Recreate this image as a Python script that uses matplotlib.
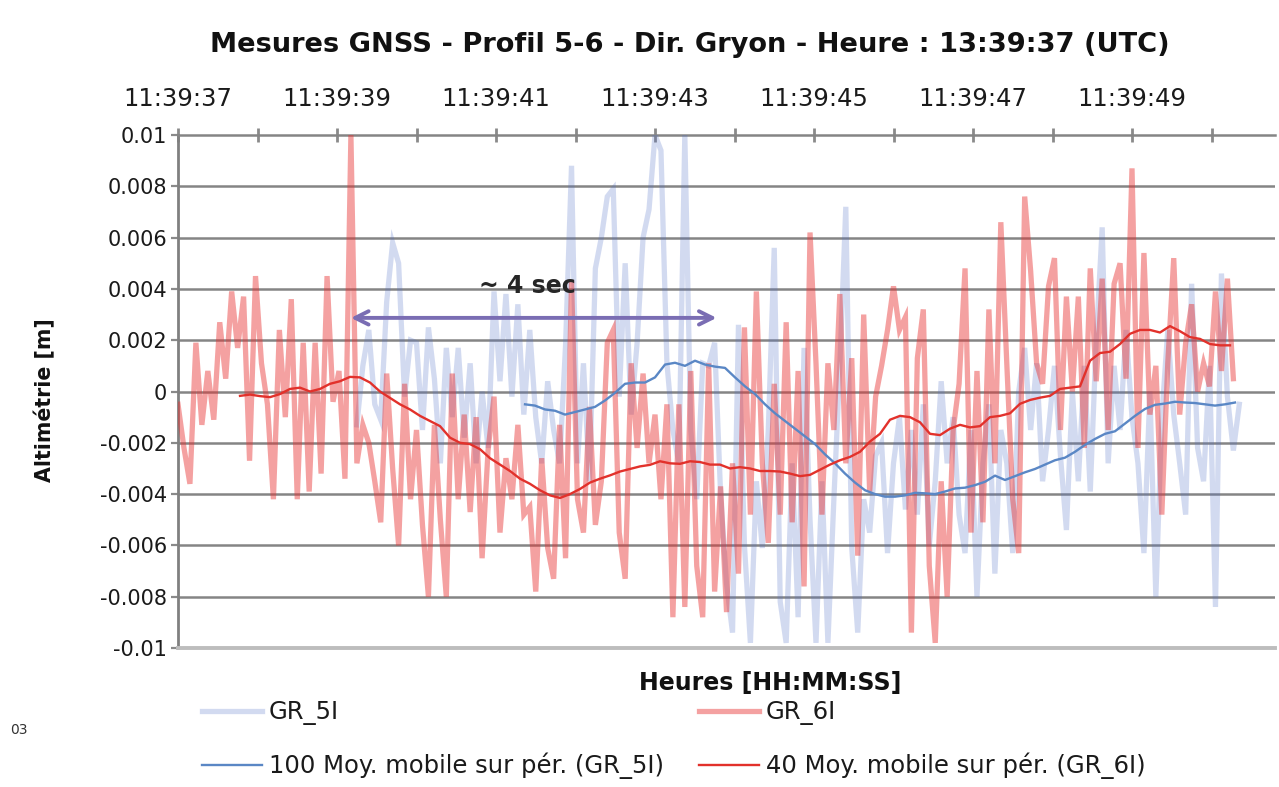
import numpy as np
import matplotlib
matplotlib.use("Agg")
import matplotlib.pyplot as plt
from matplotlib.ticker import FixedLocator

plt.rcParams['font.family'] = ['DejaVu Sans']

# ---------------- data (values in mm, time in seconds after 11:39:37) ----------------
step = 0.075  # raw sampling step (s)

gr6_start = 0.0
gr6_mm = [
    # 11:39:37 - 11:39:39
    -0.5, -2.2, -3.6, 1.9, -1.3, 0.8, -1.1, 2.7, 0.5, 3.9, 1.7, 3.7, -2.7, 4.5, 1.1,
    -0.5, -4.2, 2.4, -1.0, 3.6, -4.2, 1.9, -3.9, 1.9, -3.2, 4.5, -0.4, 0.8, -3.4, 10.0,
    # -> 11:39:41
    -2.8, -1.3, -2.0, -3.5, -5.1, 0.7, -3.0, -6.0, 0.3, -4.2, -1.5, -5.2, -8.0, -1.3, -5.0,
    -8.0, 0.7, -4.2, -0.9, -4.7, -1.0, -6.5, -2.3, -0.2, -5.5, -2.6, -4.2, -1.3, -4.8,
    # -> 11:39:43
    -4.5, -7.8, -2.6, -6.1, -7.3, -1.3, -6.5, 4.3, -4.2, -5.5, -0.6, -5.2, -3.5, 1.9, 2.4,
    -5.5, -7.3, 1.1, -2.2, 0.7, -2.8, -0.9, -4.2, -0.5, -8.8, -0.5, -8.4, 0.8, -6.8, -8.8,
    # -> 11:39:45
    1.1, -7.8, -3.7, -8.6, -2.8, -7.1, 2.5, -4.8, 3.9, -2.8, -5.9, 0.3, -4.8, 2.7, -5.1,
    0.8, -7.6, 6.2, 1.1, -4.8, 1.1, -1.5, 3.8, -2.8, 1.3, -6.4, 3.0, -3.9, -0.2,
    # -> 11:39:47
    1.0, 2.4, 4.1, 2.4, 2.9, -9.4, 1.3, 3.2, -6.8, -9.8, -3.5, -8.0, -1.5, 0.3, 4.8,
    -5.5, 0.8, -5.1, 3.2, -2.8, 6.6, 1.1, -4.2, -6.3, 7.6, 4.7, 1.1, 0.3, 4.1, 5.2,
    # -> end
    -1.5, 3.7, 0.0, 3.7, -2.2, 4.8, 0.4, 4.4, -1.5, 4.2, 5.0, 0.5, 8.7, -2.2, 5.4,
    -0.9, 1.0, -4.8, 1.1, 5.2, -0.9, 1.9, 3.4, 0.0, 1.1, 0.2, 3.9, 0.8, 4.4, 0.5,
]

gr5_start = 2.25
gr5_mm = [
    -1.3, 1.0, 2.4, -0.5, -1.1, 3.5, 5.8, 5.0, -0.2, 2.0, 1.9, -1.5, 2.5, 0.5, -2.8,
    1.7, -1.0, 1.7, -1.8, 1.1, -2.8, 0.0, -2.2, 3.9, 0.4, 3.8, -0.2, 3.4, -0.9,
    2.4, -1.0, -2.8, 0.4, -1.5, -2.8, 1.8, 8.8, -2.8, 1.1, -3.5, 4.8, 6.0, 7.6, 7.9,
    -0.2, 5.0, -0.9, 1.9, 6.0, 7.1, 10.0, 9.4, 1.1, -1.5, -2.8, 10.0, -1.5, -4.2, 1.1,
    1.0, 1.9, -4.0, -7.5, -9.4, 2.6, -6.0, -9.8, -3.5, -6.1, -1.5, 5.6, -8.2, -9.8,
    -2.8, -8.8, 1.7, -5.0, -9.8, -3.5, -9.8, -4.2, 1.0, 7.2, -6.1, -9.4, -4.2, -5.5, -2.5,
    -2.0, -6.3, -2.8, -1.0, -4.6, -1.5, -4.8, -0.5, -6.0, -3.5, 0.4, -2.8, -1.0, -4.8,
    -6.3, -1.5, -8.0, -2.8, -0.5, -7.1, -1.5, -2.8, -6.3, 0.0, 1.7, -1.5, 1.1, -3.5, -1.5,
    1.0, -2.5, -5.4, 0.0, -3.5, 1.0, -3.9, 2.0, 6.4, -2.8, 1.0, -1.5, 2.4, -1.0, -2.8,
    -6.3, 0.0, -8.0, -1.0, 2.4, -0.9, -2.8, -4.8, 4.2, -2.2, -3.5, 1.0, -8.4, 4.6, -0.2,
    -2.3, -0.5,
]

ma_step = 10 / 79.5  # moving-average sampling step (s)

ma6_start = 0.78
ma6_mm = [
    -0.17, -0.12, -0.18, -0.22, -0.1, 0.1, 0.15, 0.0, 0.1, 0.3, 0.4, 0.57, 0.55, 0.35, 0.0,
    -0.25, -0.5, -0.7, -0.95, -1.15, -1.35, -1.8, -2.0, -2.05, -2.25, -2.6, -2.85, -3.1,
    -3.4, -3.6, -3.85, -4.05, -4.15, -4.0, -3.8, -3.55, -3.4, -3.27, -3.12, -3.02, -2.92,
    -2.86, -2.72, -2.8, -2.82, -2.72, -2.75, -2.85, -2.85, -3.0, -2.95, -3.0, -3.1, -3.1,
    -3.12, -3.2, -3.3, -3.25, -3.05, -2.85, -2.68, -2.55, -2.35, -1.95, -1.65, -1.1, -0.95,
    -1.0, -1.2, -1.65, -1.7, -1.45, -1.3, -1.4, -1.35, -1.0, -0.95, -0.85, -0.48, -0.33,
    -0.24, -0.17, 0.1, 0.15, 0.2, 1.2, 1.5, 1.55, 1.85, 2.25, 2.4, 2.4, 2.3, 2.55, 2.35,
    2.12, 2.05, 1.85, 1.8, 1.8,
]

ma5_start = 4.365
ma5_mm = [
    -0.5, -0.55, -0.7, -0.75, -0.9, -0.8, -0.7, -0.6, -0.35, -0.05, 0.3, 0.35, 0.35, 0.55,
    1.05, 1.12, 1.0, 1.2, 1.05, 0.97, 0.92, 0.55, 0.2, -0.1, -0.5, -0.85, -1.15, -1.45,
    -1.75, -2.05, -2.45, -2.8, -3.2, -3.55, -3.85, -4.0, -4.1, -4.1, -4.05, -3.95, -3.97,
    -4.0, -3.9, -3.78, -3.75, -3.65, -3.52, -3.28, -3.45, -3.3, -3.15, -3.02, -2.85, -2.68,
    -2.58, -2.35, -2.08, -1.85, -1.65, -1.55, -1.25, -0.95, -0.68, -0.52, -0.47, -0.4,
    -0.43, -0.45, -0.5, -0.55, -0.5, -0.43,
]

tick_labels = ["11:39:37", "11:39:39", "11:39:41", "11:39:43", "11:39:45", "11:39:47", "11:39:49"]
y_ticks = [0.01, 0.008, 0.006, 0.004, 0.002, 0, -0.002, -0.004, -0.006, -0.008, -0.01]
y_tick_labels = ["0.01", "0.008", "0.006", "0.004", "0.002", "0",
                 "-0.002", "-0.004", "-0.006", "-0.008", "-0.01"]

# ---------------- figure ----------------
W, H = 1279, 787
fig = plt.figure(figsize=(W / 100, H / 100), dpi=100)
ax = fig.add_axes([178 / W, 1 - 648 / H, (1275 - 178) / W, (648 - 135) / H])

def xs(start, n, st):
    return start + np.arange(n) * st

c_raw5 = (0.31, 0.43, 0.78, 0.25)
c_raw6 = (0.91, 0.19, 0.19, 0.45)
c_ma5 = "#5a87c5"
c_ma6 = "#e2312b"

l5, = ax.plot(xs(gr5_start, len(gr5_mm), step), np.array(gr5_mm) * 1e-3,
              color=c_raw5, lw=3.8, solid_joinstyle='miter', zorder=3, label="GR_5I")
l6, = ax.plot(xs(gr6_start, len(gr6_mm), step), np.array(gr6_mm) * 1e-3,
              color=c_raw6, lw=3.8, solid_joinstyle='miter', zorder=4, label="GR_6I")
m5, = ax.plot(xs(ma5_start, len(ma5_mm), ma_step), np.array(ma5_mm) * 1e-3,
              color=c_ma5, lw=1.7, zorder=5, label="100 Moy. mobile sur pér. (GR_5I)")
m6, = ax.plot(xs(ma6_start, len(ma6_mm), ma_step), np.array(ma6_mm) * 1e-3,
              color=c_ma6, lw=1.7, zorder=6, label="40 Moy. mobile sur pér. (GR_6I)")

ax.set_xlim(0, (1275 - 178) / 79.5)
ax.set_ylim(-0.01, 0.01)

# grid
for yv in y_ticks[1:-1]:
    ax.axhline(yv, color="#858585", lw=1.8, zorder=1)

# spines
ax.spines["right"].set_visible(False)
ax.spines["top"].set_color("#858585")
ax.spines["top"].set_linewidth(1.8)
ax.spines["left"].set_color("#808080")
ax.spines["left"].set_linewidth(2.0)
ax.spines["bottom"].set_color("#bdbdbd")
ax.spines["bottom"].set_linewidth(2.8)

# top time axis
ax.xaxis.set_ticks_position("top")
ax.xaxis.set_label_position("top")
ax.set_xticks(np.arange(0, 13, 2))
ax.set_xticklabels(tick_labels)
ax.xaxis.set_minor_locator(FixedLocator(np.arange(1, 14, 2)))
ax.tick_params(axis="x", which="both", direction="inout", length=10, width=2,
               color="#8a8a8a", pad=12, labelsize=17.5, labelcolor="#1a1a1a")

ax.set_yticks(y_ticks)
ax.set_yticklabels(y_tick_labels)
ax.tick_params(axis="y", direction="out", length=5, width=1.6, color="#8a8a8a",
               pad=3, labelsize=15, labelcolor="#1a1a1a")

# annotation
ax.annotate("", xy=(6.81, 0.00287), xytext=(2.14, 0.00287),
            arrowprops=dict(arrowstyle="<->", color="#7a6db3", lw=2.8,
                            mutation_scale=24), zorder=7)
ax.text(4.39, 0.0041, "~ 4 sec", ha="center", va="center", fontsize=17,
        fontweight="bold", color="#262626", zorder=8)

# texts
fig.text(690 / W, 1 - 45 / H, "Mesures GNSS - Profil 5-6 - Dir. Gryon - Heure : 13:39:37 (UTC)",
         ha="center", va="center", fontsize=19.6, fontweight="bold", color="#111111")
fig.text(45 / W, 1 - 400 / H, "Altimétrie [m]", rotation=90, ha="center", va="center",
         fontsize=14.8, fontweight="bold", color="#111111")
fig.text(770 / W, 1 - 683 / H, "Heures [HH:MM:SS]", ha="center", va="center",
         fontsize=17, fontweight="bold", color="#111111")
fig.text(10 / W, 1 - 730 / H, "03", ha="left", va="center", fontsize=10, color="#333333")

leg = fig.legend(handles=[l5, m5, l6, m6], loc="upper left",
                 bbox_to_anchor=(185 / W, 1 - 683 / H), ncol=2, frameon=False,
                 fontsize=17.5, handlelength=2.45, handletextpad=0.3, columnspacing=1.45,
                 labelspacing=1.15, borderpad=0.2)
for t in leg.get_texts():
    t.set_color("#1a1a1a")

fig.savefig("out.png", dpi=100)
